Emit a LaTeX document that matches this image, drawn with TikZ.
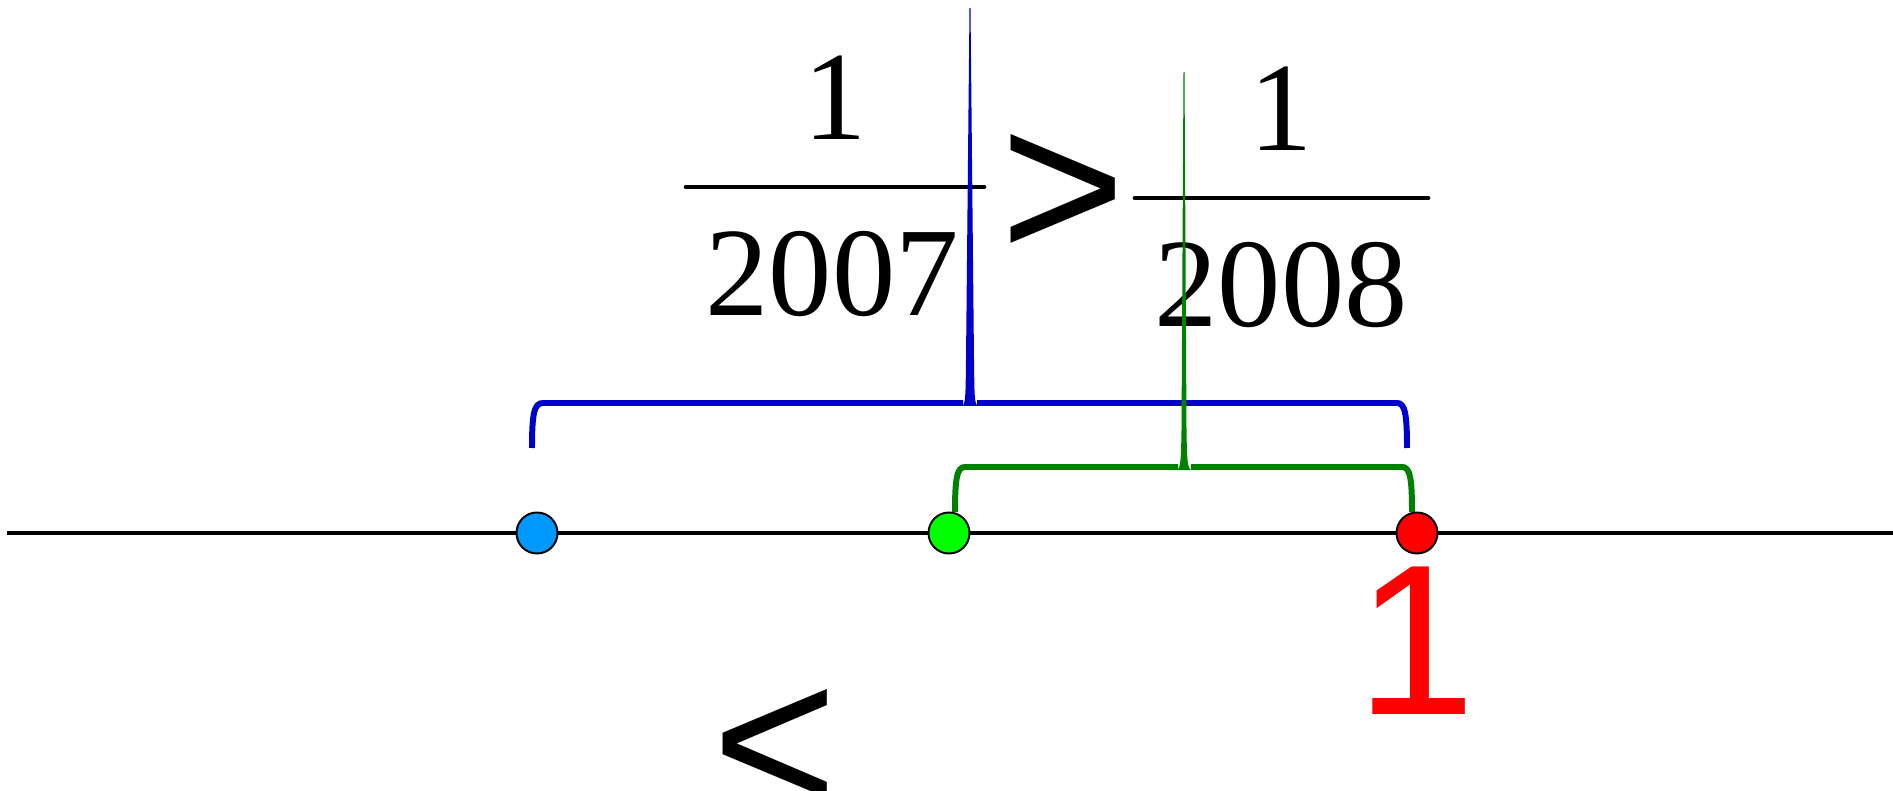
\documentclass[tikz,border=0pt]{standalone}
\usepackage{fontspec}
\setmainfont{Liberation Serif}
\newfontfamily\arialfont{Liberation Sans}
\newfontfamily\dvsfont{DejaVu Serif}
\tikzset{
  blueline/.style={draw={rgb,255:red,0;green,0;blue,204},fill={rgb,255:red,0;green,0;blue,204}},
  greenline/.style={draw={rgb,255:red,0;green,128;blue,0},fill={rgb,255:red,0;green,128;blue,0}},
  point/.style={circle,draw=black,line width=0.55pt,minimum size=0.41cm,inner sep=0pt}
}

\begin{document}
\begin{tikzpicture}[x=0.01cm,y=-0.01cm]
      \useasboundingbox (0,0) rectangle (1893,791);
      % fractions and signs
      \begin{scope}[every node/.style={inner sep=0pt,anchor=base,font=\fontsize{36}{40}\selectfont}]
        \node (num1) at (835,140) {1\rlap{\dvsfont\char"00A0}};
        \node (den1) at (832,316) {2007};
        \node (num2) at (1281,151) {1};
        \node (den2) at (1281,327) {2008};
        \node (gt) at (1063,260) {\arialfont\fontsize{61}{70}\selectfont >};
        \node (lt) at (775,814) {\arialfont\fontsize{61}{70}\selectfont <};
        \node[text={rgb,255:red,255;green,0;blue,0}] (one) at (1416,714) {\arialfont\fontsize{61}{70}\selectfont 1};
      \end{scope}
      \draw[line width=1.35pt,line cap=round] (686,187) -- (984,187);
      \draw[line width=1.35pt,line cap=round] (1135,198) -- (1428,198);
      % number line
      \coordinate (L) at (7,533);
      \coordinate (R) at (1893,533);
      \draw[line width=1.4pt] (L) -- (R);
      % braces
      \begin{scope}[line width=1.7pt]
        \draw[blueline,fill=none] (532,448) .. controls (532,414) and (534,403) .. (543,403) -- (963,403);
        \draw[blueline,fill=none] (1407,448) .. controls (1407,414) and (1405,403) .. (1397,403) -- (977,403);
        \fill[blueline,draw=none] (962,406) .. controls (966,404) and (965.5,392) .. (966,360)
          -- (969.5,8) -- (970.5,8) -- (974,360) .. controls (974.5,392) and (974,404) .. (978,406) -- cycle;
        \draw[greenline,fill=none] (955,512) .. controls (955,478) and (957,467) .. (965,467) -- (1178,467);
        \draw[greenline,fill=none] (1412,512) .. controls (1412,478) and (1410,467) .. (1402,467) -- (1191,467);
        \fill[greenline,draw=none] (1177,470) .. controls (1181,468) and (1181,456) .. (1181.5,430)
          -- (1183.5,72) -- (1184.5,72) -- (1186.5,430) .. controls (1187,456) and (1187,468) .. (1191,470) -- cycle;
      \end{scope}
      % points
      \node[point,fill={rgb,255:red,0;green,153;blue,255}] (P) at (537,533) {};
      \node[point,fill={rgb,255:red,0;green,255;blue,0}] (Q) at (949,533) {};
      \node[point,fill={rgb,255:red,255;green,0;blue,0}] (S) at (1417,533) {};
    \end{tikzpicture}
\end{document}
